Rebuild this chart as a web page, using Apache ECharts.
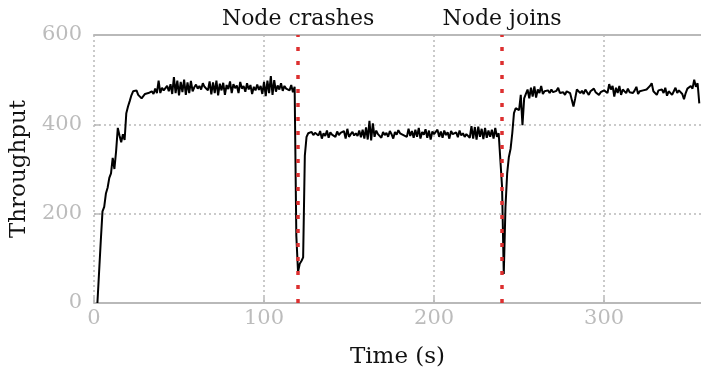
<!DOCTYPE html>
<html>
<head>
<meta charset="utf-8">
<script src="https://cdn.jsdelivr.net/npm/echarts@6/dist/echarts.min.js"></script>
<style>
  html, body { margin: 0; padding: 0; background: #ffffff; }
  #chart { width: 701px; height: 375px; }
</style>
</head>
<body>
<div id="chart"></div>
<script>
// Throughput sampled once per second, starting at t = 2 s.
const sampleStart = 2;

// t = 2 .. 46 s : cluster warms up
const rampUp = [
  0, 70, 140, 205, 215, 245, 258, 280, 290, 325, 300, 340, 392, 375, 360, 378, 365, 425, 440, 452, 465,
  474, 470, 476, 466, 462, 458, 460, 468, 464, 470, 466, 474, 468, 480, 470, 498, 470, 482, 476, 480, 486, 474, 490, 468
];

// t = 47 .. 118 s : all nodes up
const fullCluster = [
  506, 470, 498, 465, 495, 472, 500, 466, 494, 470, 497, 474, 483, 489, 480, 486, 478, 492, 484, 488,
  476, 496, 467, 494, 470, 498, 465, 491, 476, 493, 466, 488, 479, 496, 470, 490, 481, 487, 470, 495,
  480, 486, 473, 492, 478, 488, 468, 484, 476, 489, 477, 486, 468, 495, 463, 498, 470, 508, 466, 499,
  473, 487, 478, 492, 475, 486, 480, 483, 476, 488, 472, 484
];

// t = 119 .. 124 s : node failure and recovery
const crashDip = [150, 70, 88, 94, 102, 330];

// t = 125 .. 238 s : running with one node less
const degraded = [
  372, 380, 377, 383, 376, 381, 378, 375, 385, 368, 380, 374, 386, 370, 382, 377, 380, 372, 384, 376,
  381, 379, 385, 368, 390, 372, 378, 383, 375, 380, 374, 386, 371, 388, 368, 393, 366, 408, 364, 402,
  372, 386, 378, 380, 370, 383, 376, 381, 372, 385, 378, 368, 383, 377, 387, 380, 384, 376, 380, 372,
  390, 374, 385, 370, 388, 372, 392, 368, 383, 377, 389, 370, 386, 366, 384, 378, 374, 388, 372, 384,
  370, 386, 376, 382, 368, 385, 378, 374, 382, 371, 386, 375, 380, 372, 378, 381, 370, 396, 368, 394,
  366, 395, 372, 390, 367, 392, 370, 386, 372, 388, 368, 392, 372, 380
];

// t = 239 .. 252 s : new node joins, rebalancing
const joinDip = [378, 260, 65, 215, 290, 327, 345, 380, 425, 436, 440, 432, 466, 398];

// t = 253 .. 356 s : back to full strength
const rejoined = [
  458, 468, 478, 458, 482, 462, 485, 460, 478, 470, 486, 468, 474, 471, 476, 470, 478, 472, 468, 475,
  482, 470, 474, 472, 466, 474, 472, 470, 455, 440, 458, 478, 476, 470, 475, 468, 478, 472, 466, 474,
  470, 480, 472, 468, 466, 472, 474, 476, 480, 470, 490, 478, 486, 462, 482, 470, 486, 466, 478, 474,
  470, 480, 472, 476, 470, 476, 484, 468, 474, 470, 476, 472, 478, 480, 486, 492, 474, 478, 466, 476,
  472, 478, 470, 482, 464, 474, 478, 466, 474, 482, 470, 476, 472, 468, 456, 470, 480, 476, 486, 480,
  500, 484, 492, 447
];

const throughput = [].concat(rampUp, fullCluster, crashDip, degraded, joinDip, rejoined);

const eventTimes = [120, 240];
const eventLabels = ['Node crashes', 'Node joins'];

const xMax = 357;
const xStep = 100;
const yMax = 600;
const yStep = 200;

const FONT = 'DejaVu Serif';
const GREY = '#b9b9b9';
const LABEL_GREY = '#bcbcbc';

const seriesData = throughput.map((v, i) => [sampleStart + i, v]);

const chart = echarts.init(document.getElementById('chart'), null, { renderer: 'canvas' });

const gridLine = { color: GREY, width: 1.5, type: [2, 3] };
const spine = { color: GREY, width: 2 };

chart.setOption({
  animation: false,
  backgroundColor: '#ffffff',
  grid: { left: 94, right: 0, top: 35, bottom: 72 },
  xAxis: [
    {
      type: 'value', min: 0, max: xMax, interval: xStep,
      axisLine: { show: true, lineStyle: spine },
      axisTick: { show: true, inside: true, length: 6, lineStyle: { color: GREY, width: 1.5 } },
      axisLabel: { color: LABEL_GREY, fontFamily: FONT, fontSize: 21, margin: 5, showMaxLabel: false },
      splitLine: { show: true, showMaxLine: false, lineStyle: gridLine },
      name: 'Time (s)', nameLocation: 'middle', nameGap: 43,
      nameTextStyle: { color: '#111', fontFamily: FONT, fontSize: 23 }
    },
    {
      type: 'value', position: 'top', min: 0, max: xMax,
      axisLine: { show: true, lineStyle: spine },
      axisTick: { show: false }, axisLabel: { show: false }, splitLine: { show: false }
    }
  ],
  yAxis: {
    type: 'value', min: 0, max: yMax, interval: yStep,
    axisLine: { show: false },
    axisTick: { show: true, inside: true, length: 6, lineStyle: { color: GREY, width: 1.5 } },
    axisLabel: { color: LABEL_GREY, fontFamily: FONT, fontSize: 21, margin: 12 },
    splitLine: { show: true, lineStyle: gridLine },
    name: 'Throughput', nameLocation: 'middle', nameGap: 55,
    nameTextStyle: { color: '#111', fontFamily: FONT, fontSize: 23 }
  },
  series: [
    {
      type: 'line', data: [], z: 1, silent: true,
      markLine: {
        silent: true, symbol: 'none', animation: false,
        lineStyle: { color: '#dd3030', width: 3.5, type: [4, 10] },
        label: {
          show: true, position: 'end', distance: 5,
          formatter: p => p.name,
          color: '#111', fontFamily: FONT, fontSize: 22
        },
        data: eventTimes.map((t, i) => ({ xAxis: t, name: eventLabels[i] }))
      }
    },
    {
      type: 'line', data: seriesData, z: 3,
      showSymbol: false, symbol: 'none',
      lineStyle: { color: '#000000', width: 2 },
      silent: true
    }
  ]
});
</script>
</body>
</html>
